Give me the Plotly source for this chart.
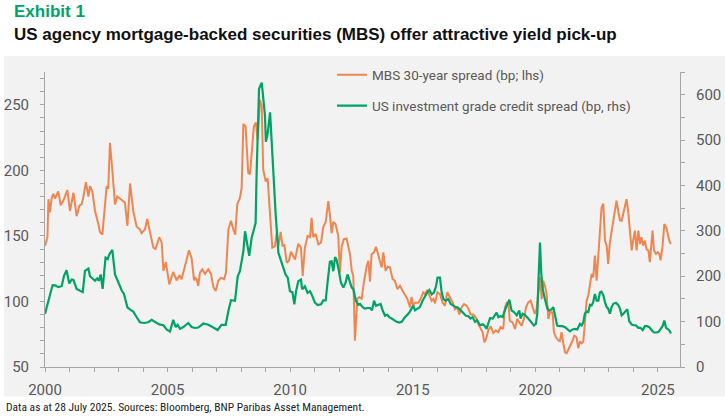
import plotly.graph_objects as go

# ---------------- data ----------------
mbs_years = [
    2000.00, 2000.10, 2000.14, 2000.20, 2000.27, 2000.34, 2000.41, 2000.54, 2000.64, 2000.775,
    2000.91, 2001.02, 2001.16, 2001.29, 2001.40, 2001.495, 2001.56, 2001.67, 2001.77, 2001.835,
    2001.93, 2002.04, 2002.175, 2002.24, 2002.34, 2002.45, 2002.515, 2002.58, 2002.65, 2002.72,
    2002.855, 2002.95, 2003.13, 2003.26, 2003.36, 2003.47, 2003.60, 2003.74, 2003.87, 2003.94,
    2004.08, 2004.17, 2004.28, 2004.42, 2004.51, 2004.66, 2004.76, 2004.83, 2004.93, 2005.07,
    2005.23, 2005.37, 2005.48, 2005.57, 2005.78, 2005.87, 2005.98, 2006.08,
    2006.12, 2006.185, 2006.25, 2006.32, 2006.42, 2006.525, 2006.66, 2006.77, 2006.865, 2006.96,
    2007.07, 2007.18, 2007.31, 2007.38, 2007.48, 2007.585, 2007.68, 2007.76, 2007.84, 2007.95,
    2008.02, 2008.09, 2008.18, 2008.29, 2008.36, 2008.455, 2008.52, 2008.605, 2008.67, 2008.77,
    2008.84, 2008.90, 2009.00, 2009.08, 2009.18, 2009.27, 2009.38, 2009.45, 2009.52, 2009.61,
    2009.69, 2009.76, 2009.86, 2009.95, 2010.03, 2010.13, 2010.20, 2010.33, 2010.44, 2010.51,
    2010.60, 2010.71, 2010.81, 2010.875, 2010.94, 2011.04, 2011.15, 2011.26, 2011.35, 2011.45,
    2011.555, 2011.62, 2011.69, 2011.76, 2011.85, 2011.96, 2012.03, 2012.10, 2012.19, 2012.30,
    2012.44, 2012.51, 2012.575, 2012.64, 2012.68, 2012.74, 2012.82, 2012.915, 2013.01, 2013.12,
    2013.19, 2013.255, 2013.32, 2013.42, 2013.50, 2013.595, 2013.73, 2013.80, 2013.89, 2013.975,
    2014.07, 2014.18, 2014.27, 2014.37, 2014.48, 2014.59, 2014.68, 2014.78, 2014.89, 2014.95,
    2015.02, 2015.09, 2015.23, 2015.32, 2015.43, 2015.50, 2015.59, 2015.675, 2015.77, 2015.84,
    2015.91, 2016.00, 2016.11, 2016.22, 2016.31, 2016.41, 2016.52, 2016.63, 2016.72, 2016.82,
    2016.90, 2016.99, 2017.09, 2017.20, 2017.28, 2017.36, 2017.47, 2017.58, 2017.67, 2017.77,
    2017.85, 2017.92, 2017.99, 2018.08, 2018.18, 2018.285, 2018.39, 2018.49, 2018.58, 2018.69,
    2018.76, 2018.83, 2018.90, 2018.96, 2019.07, 2019.17, 2019.26, 2019.345, 2019.44, 2019.535,
    2019.62, 2019.71, 2019.81, 2019.89, 2019.98, 2020.05, 2020.12, 2020.19, 2020.26, 2020.32,
    2020.39, 2020.46, 2020.53, 2020.60, 2020.70, 2020.76, 2020.84, 2020.94, 2021.00, 2021.07,
    2021.14, 2021.21, 2021.275, 2021.34, 2021.44, 2021.52, 2021.59, 2021.68, 2021.75, 2021.82,
    2021.89, 2021.955, 2022.02, 2022.09, 2022.16, 2022.23, 2022.295, 2022.36, 2022.43, 2022.50,
    2022.57, 2022.635, 2022.70, 2022.77, 2022.84, 2022.91, 2022.97, 2023.04, 2023.11, 2023.18,
    2023.25, 2023.31, 2023.38, 2023.45, 2023.52, 2023.59, 2023.65, 2023.72, 2023.79, 2023.86,
    2023.93, 2023.99, 2024.06, 2024.13, 2024.20, 2024.27, 2024.33, 2024.40, 2024.47, 2024.54,
    2024.61, 2024.67, 2024.74, 2024.78, 2024.84, 2024.92, 2024.99, 2025.055, 2025.11, 2025.19,
    2025.26, 2025.33, 2025.39, 2025.46, 2025.53,
]
mbs_spread = [
    142.5, 149, 178, 168, 178.5, 182, 178.5, 184, 173.4, 178,
    185, 169, 183, 165, 173, 174, 179, 191, 180, 188,
    184, 169, 159, 153, 151, 172, 188, 186, 221, 206,
    174, 180, 177, 175.5, 157.7, 190, 169, 157, 155, 152,
    155, 163, 153, 141, 140, 149, 145, 123.4, 130, 113,
    122.5, 116, 120, 117, 132, 139, 133, 116,
    118, 117, 111.8, 122, 124.5, 121, 124.5, 121, 111, 108,
    116, 118, 117, 122, 155, 161.5, 155, 151, 174, 179,
    186.5, 235.5, 233.5, 198, 197, 222, 233.5, 236.5, 223, 253.8,
    249, 200.6, 191.6, 194, 166, 141, 142, 152.4, 142, 153,
    142, 143.5, 129.5, 131, 138, 134.5, 132, 144, 141, 119.4,
    141, 150, 149, 163.8, 149, 151.5, 143.5, 145, 156.7, 160.6,
    176.5, 166, 152, 160.6, 159, 150, 122, 142, 147.5, 148,
    136, 123.4, 119.5, 70, 88, 102, 103.3, 102, 115, 127,
    131, 115, 136, 137.5, 141.7, 136, 126, 137.5, 123.4, 126.5,
    126, 117, 115.8, 109.5, 112, 108, 105.5, 102, 95.4, 103.5,
    96.7, 99, 99, 102, 107, 105.5, 108.8, 105.5, 100.5, 102,
    98.5, 107, 105.5, 99, 96.7, 107, 103.3, 99, 94, 95.4,
    90, 95.4, 98, 96.7, 94, 90, 90, 87.5, 82.9, 79,
    76.5, 68.9, 71.5, 78, 81, 76, 78, 76.5, 80.5, 79,
    95.4, 99, 98, 85.4, 84, 79, 86.7, 84, 81.6, 86.7,
    95.5, 99.3, 100.6, 95.5, 90.5, 94, 105.8, 118.3, 101.8, 115.8,
    111.9, 105.8, 86.7, 91.7, 91.7, 76.5, 72.7, 70.2, 69.7, 76.5,
    68.1, 61.3, 60.5, 63, 66.9, 70.2, 74, 72.7, 64.3, 69.4,
    68.1, 69.4, 83.3, 100.6, 104.5, 113.4, 121, 118.3, 134.9, 115.8,
    136, 149, 171.6, 174.6, 146.4, 142.6, 128.6, 145, 154, 161.5,
    171.6, 176.8, 169, 162, 161.5, 166.5, 173, 178, 168, 154,
    138.9, 146.4, 154, 138.9, 154, 143.8, 149, 142.6, 146.4, 139.5,
    138.9, 130, 143.8, 154, 138.9, 136.3, 137.6, 136.3, 131.3, 142.6,
    159, 156.6, 152.8, 146.4, 143.8,
]

ig_years = [
    2000.00, 2000.10, 2000.20, 2000.31, 2000.41, 2000.54, 2000.68, 2000.775, 2000.88, 2000.99,
    2001.09, 2001.16, 2001.29, 2001.43, 2001.54, 2001.63, 2001.77, 2001.835, 2001.97, 2002.04,
    2002.13, 2002.20, 2002.27, 2002.35, 2002.47, 2002.56, 2002.62, 2002.745, 2002.855, 2002.99,
    2003.13, 2003.22, 2003.36, 2003.49, 2003.60, 2003.74, 2003.87, 2004.04, 2004.21, 2004.35,
    2004.49, 2004.66, 2004.83, 2004.96, 2005.10, 2005.23, 2005.33, 2005.41, 2005.51, 2005.64,
    2005.845, 2005.98, 2006.12,
    2006.25, 2006.46, 2006.66, 2006.865, 2007.04, 2007.20, 2007.37, 2007.48, 2007.585, 2007.75,
    2007.86, 2007.95, 2008.09, 2008.16, 2008.27, 2008.33, 2008.43, 2008.50, 2008.59, 2008.63,
    2008.73, 2008.84, 2008.90, 2008.97, 2009.01, 2009.08, 2009.18, 2009.24, 2009.33, 2009.41,
    2009.52, 2009.62, 2009.72, 2009.81, 2009.90, 2009.99, 2010.09, 2010.17, 2010.24, 2010.33,
    2010.44, 2010.49, 2010.60, 2010.71, 2010.81, 2010.875, 2011.01, 2011.12, 2011.26, 2011.35,
    2011.45, 2011.53, 2011.62, 2011.69, 2011.76, 2011.83, 2011.89, 2011.99, 2012.07, 2012.17,
    2012.26, 2012.34,
    2012.51, 2012.575, 2012.68, 2012.78, 2012.85, 2012.96, 2013.05, 2013.15, 2013.255, 2013.34,
    2013.42, 2013.50, 2013.595, 2013.69, 2013.77, 2013.87, 2013.96, 2014.04, 2014.14, 2014.23,
    2014.34, 2014.45, 2014.55, 2014.64, 2014.75, 2014.86, 2014.95, 2015.02, 2015.09, 2015.19,
    2015.29, 2015.40, 2015.50, 2015.59, 2015.675, 2015.77, 2015.865, 2015.95, 2016.01, 2016.11,
    2016.18, 2016.25, 2016.35, 2016.45, 2016.545, 2016.65, 2016.76, 2016.86, 2016.95, 2017.06,
    2017.17, 2017.27, 2017.36, 2017.44, 2017.54, 2017.63, 2017.74, 2017.85, 2017.93, 2018.01,
    2018.08, 2018.15, 2018.26, 2018.35, 2018.42, 2018.49, 2018.58, 2018.67, 2018.72, 2018.83,
    2018.94,
    2019.03, 2019.13, 2019.24, 2019.345, 2019.40, 2019.48, 2019.575, 2019.67, 2019.78, 2019.89,
    2019.94, 2020.02, 2020.08, 2020.13, 2020.19, 2020.24, 2020.30, 2020.39, 2020.49, 2020.57,
    2020.66, 2020.73, 2020.83, 2020.89, 2021.00, 2021.11, 2021.21, 2021.30, 2021.41, 2021.52,
    2021.61, 2021.71, 2021.82, 2021.89, 2021.955, 2022.02, 2022.09, 2022.16, 2022.23, 2022.295,
    2022.36, 2022.43, 2022.50, 2022.57, 2022.635, 2022.70, 2022.77, 2022.84, 2022.91, 2022.97,
    2023.04, 2023.11, 2023.18, 2023.29, 2023.38, 2023.45, 2023.52, 2023.59, 2023.69, 2023.75,
    2023.83, 2023.93, 2024.02, 2024.10, 2024.20, 2024.29, 2024.375, 2024.47, 2024.56, 2024.65,
    2024.74, 2024.84, 2024.945, 2025.03, 2025.11, 2025.19, 2025.26, 2025.33, 2025.39, 2025.46,
    2025.53,
]
ig_spread = [
    117, 139, 157, 180.5, 180, 176, 178, 201, 213, 184,
    193, 192, 172, 168.5, 165, 212, 217, 200, 193, 190,
    195, 190, 204, 172, 241, 238, 248, 258, 204, 186,
    168.5, 161, 131.6, 126, 122, 109.6, 98.7, 97, 98.7, 104,
    100, 94, 92, 82.6, 78, 104, 88, 93, 84, 88,
    97, 88, 86,
    87, 95.8, 93, 87, 81.5, 93, 93, 123.5, 147, 146,
    200, 211, 255, 299, 263, 245, 285, 299, 317, 423,
    613, 626.5, 598, 555, 496, 514, 561, 496, 408.6, 335,
    251.5, 237, 219, 204, 197, 167, 165, 138, 167, 189,
    192.6, 171, 178, 163.6, 167, 160, 142, 136.6, 138, 147,
    147, 189, 231.8, 233, 211, 242, 237, 211, 186, 175,
    186, 204,
    175, 172, 146, 137, 139, 132, 128.6, 130, 130, 125,
    146, 135, 137, 139, 125, 113, 115, 110, 106.8, 103,
    99.6, 98, 99.6, 106.8, 113, 120, 128.6, 135, 125, 128.6,
    132, 146, 157, 164, 169.6, 160, 164, 178, 197, 197,
    164, 149.7, 146, 149.7, 139, 135, 132, 130, 125, 117.8,
    113, 112, 106.8, 110, 99.6, 103, 92, 94, 91, 84,
    96, 107.5, 106.8, 113, 120, 110, 112, 110, 120, 135,
    148.4,
    124.4, 121, 113.8, 124.4, 106.5, 117.4, 115, 110, 102.3, 95,
    91.4, 95, 117.4, 193.7, 274, 208, 172, 150, 128.6, 124.4,
    127, 132, 102.3, 91.4, 90, 90, 87.7, 84, 78.4, 82.8,
    84, 82.8, 95, 91.4, 98.7, 117.4, 122.4, 121, 137, 135.6,
    143, 160.8, 146, 146, 164.5, 166, 158.6, 143, 132, 128.6,
    117.4, 132, 139.3, 141.4, 137, 128.6, 113.8, 117.4, 122.4, 127,
    100.9, 93.6, 92, 92, 86.3, 86.3, 81.2, 90, 90, 87.7,
    81.2, 76, 76, 77.5, 84, 90, 102.3, 86.3, 84, 81.2,
    73.9,
]

mbs_name = "MBS 30-year spread (bp; lhs)"
ig_name = "US investment grade credit spread (bp, rhs)"
x_ticks = [2000, 2005, 2010, 2015, 2020, 2025]
left_ticks = [50, 100, 150, 200, 250]
right_ticks = [0, 100, 200, 300, 400, 500, 600]

# ---------------- styling ----------------
ORANGE = "#F0864F"
GREEN = "#00A366"
PANEL = "#F2F2F2"
AXIS = "#A6A6A6"
TXT = "#595959"
FONT = "Roboto, Liberation Sans, sans-serif"
TITLEFONT = "Liberation Sans, Arial, sans-serif"
COND = "Liberation Sans Narrow, Roboto Condensed, Roboto, sans-serif"

W, H = 725, 417
ML, MR, MT, MB = 45, 45, 72, 49.5
PW, PH = W - ML - MR, H - MT - MB


def px(x):
    return (x - ML) / PW


def py(y):
    return (H - MB - y) / PH


fig = go.Figure()
fig.add_trace(go.Scatter(
    x=mbs_years, y=mbs_spread, name=mbs_name, mode="lines",
    line=dict(color=ORANGE, width=2), yaxis="y", legend="legend",
))
fig.add_trace(go.Scatter(
    x=ig_years, y=ig_spread, name=ig_name, mode="lines",
    line=dict(color=GREEN, width=2.2), yaxis="y2", legend="legend2",
))

tickfont = dict(family=FONT, size=15, color=TXT)
legfont = dict(family=FONT, size=13.5, color=TXT)

fig.update_layout(
    width=W, height=H,
    margin=dict(l=ML, r=MR, t=MT, b=MB, pad=0, autoexpand=False),
    paper_bgcolor="white",
    plot_bgcolor=PANEL,
    showlegend=True,
    xaxis=dict(
        range=[2000, 2025.9], tickvals=x_ticks, ticktext=[str(t) for t in x_ticks],
        showgrid=False, zeroline=False, showline=True, linecolor=AXIS, linewidth=1,
        ticks="outside", ticklen=4, tickcolor=AXIS, tickfont=tickfont, automargin=False,
        minor=dict(dtick=1, tick0=2000, ticks="outside", ticklen=4, tickcolor=AXIS, showgrid=False),
        ticklabelstandoff=5,
    ),
    yaxis=dict(
        range=[50, 275], tickvals=left_ticks, showgrid=False, zeroline=False,
        showline=True, linecolor=AXIS, linewidth=1, automargin=False,
        ticks="outside", ticklen=4, tickcolor=AXIS, tickfont=tickfont,
        minor=dict(dtick=10, tick0=50, ticks="outside", ticklen=4, tickcolor=AXIS, showgrid=False),
        ticklabelstandoff=8,
    ),
    yaxis2=dict(
        range=[0, 650], tickvals=right_ticks, overlaying="y", side="right",
        showgrid=False, zeroline=False, showline=True, linecolor=AXIS, linewidth=1,
        ticks="outside", ticklen=4, tickcolor=AXIS, tickfont=tickfont, automargin=False,
        minor=dict(dtick=50, tick0=0, ticks="outside", ticklen=4, tickcolor=AXIS, showgrid=False),
        ticklabelstandoff=8,
    ),
    legend=dict(
        x=px(332), y=py(75), xanchor="left", yanchor="middle",
        bgcolor="rgba(0,0,0,0)", font=legfont, borderwidth=0,
    ),
    legend2=dict(
        x=px(332), y=py(106), xanchor="left", yanchor="middle",
        bgcolor="rgba(0,0,0,0)", font=legfont, borderwidth=0,
    ),
    shapes=[dict(
        type="rect", xref="paper", yref="paper", layer="below",
        x0=px(4), x1=px(725), y0=py(397), y1=py(56),
        fillcolor=PANEL, line=dict(width=0),
    )],
    annotations=[
        dict(text="<b>Exhibit 1</b>", xref="paper", yref="paper", x=px(12), y=py(11),
             xanchor="left", yanchor="middle", showarrow=False,
             font=dict(family=TITLEFONT, size=17, color=GREEN)),
        dict(text="<b>US agency mortgage-backed securities (MBS) offer attractive yield pick-up</b>",
             xref="paper", yref="paper", x=px(12), y=py(34),
             xanchor="left", yanchor="middle", showarrow=False,
             font=dict(family=TITLEFONT, size=17, color="#111111")),
        dict(text="Data as at 28 July 2025. Sources: Bloomberg, BNP Paribas Asset Management.",
             xref="paper", yref="paper", x=px(4), y=py(408),
             xanchor="left", yanchor="middle", showarrow=False,
             font=dict(family=COND, size=11.5, color="#222222")),
    ],
)

fig.write_html(
    "out.html",
    config={"displayModeBar": False},
    post_script="document.body.style.margin='0';document.body.style.overflow='hidden';",
)
